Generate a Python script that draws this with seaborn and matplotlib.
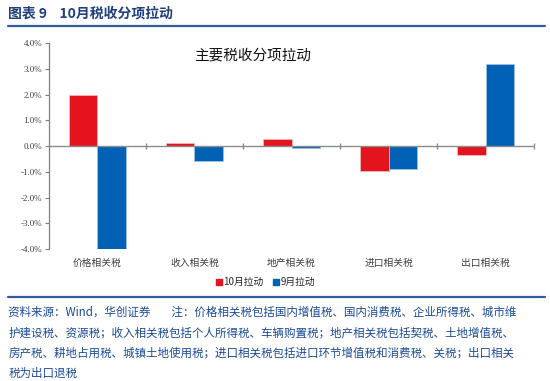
import pandas as pd
import numpy as np
import matplotlib.pyplot as plt
import seaborn as sns
from matplotlib.ticker import FuncFormatter
from matplotlib.lines import Line2D

# chart data (percentage points)
categories = ['价格相关税', '收入相关税', '地产相关税', '进口相关税', '出口相关税']
oct_pull = [2.0, 0.12, 0.27, -0.97, -0.33]
sep_pull = [-4.0, -0.58, -0.07, -0.90, 3.17]
series_names = ['10月拉动', '9月拉动']

data = pd.DataFrame({
    'category': categories * 2,
    'series': [series_names[0]] * len(categories) + [series_names[1]] * len(categories),
    'value': oct_pull + sep_pull,
})

sns.set_theme(style='white')
plt.rcParams['font.family'] = ['Noto Sans CJK SC', 'DejaVu Sans']

red = '#E3141E'
blue = '#0061B5'
navy = '#1F3F7F'

fig = plt.figure(figsize=(5.5, 3.81), dpi=100)
ax = fig.add_axes([0.089, 0.346, 0.882, 0.541])

sns.barplot(data=data, x='category', y='value', hue='series',
            palette=[red, blue], saturation=1, width=0.58, ax=ax,
            edgecolor='#f4b6b6', linewidth=0.6, legend=False)
for bar in ax.patches[len(categories):]:
    bar.set_edgecolor('#9cc3e6')

ax.set_ylim(-4.0, 4.0)
ax.set_yticks(np.arange(-4, 4.01, 1))
ax.yaxis.set_major_formatter(FuncFormatter(lambda v, p: f'{v:.1f}%'))
ax.set_xlim(-0.5, len(categories) - 0.5)
ax.set_xlabel('')
ax.set_ylabel('')

for s in ['top', 'right', 'bottom']:
    ax.spines[s].set_visible(False)
ax.spines['left'].set_color('#7f7f7f')
ax.spines['left'].set_linewidth(0.9)
ax.axhline(0, color='#8c8c8c', linewidth=1.0, zorder=1)

# small ticks on the zero line between categories
bounds = np.arange(len(categories) + 1) - 0.5
ax.plot(bounds[1:], np.zeros(len(bounds) - 1), linestyle='none', marker='|',
        markersize=4, color='#8c8c8c', clip_on=False)

ax.tick_params(axis='y', which='major', direction='out', length=3, width=0.8,
               color='#7f7f7f', left=True, pad=2, labelsize=6.5)
ax.tick_params(axis='x', length=0, pad=6, labelsize=7, colors='#404040')
for lab in ax.get_yticklabels():
    lab.set_fontfamily(['Liberation Serif'])
    lab.set_color('#404040')

ax.text(0.42, 0.94, '主要税收分项拉动', transform=ax.transAxes, ha='center',
        va='center', fontsize=10.5, color='#111111')

# legend
handles = [Line2D([], [], marker='s', linestyle='none', markersize=5, color=c)
           for c in [red, blue]]
fig.legend(handles, series_names, loc='center', bbox_to_anchor=(0.483, 0.26),
           ncol=2, frameon=False, fontsize=7, handlelength=0.6,
           handletextpad=0.1, columnspacing=1.0)

# header
fig.text(0.015, 0.965, '图表 9    10月税收分项拉动', fontsize=10, fontweight='bold',
         color=navy, va='center', ha='left')
fig.add_artist(Line2D([0.015, 0.99], [0.932, 0.932], color='#2F5D9E', linewidth=1.6))
fig.add_artist(Line2D([0.015, 0.99], [0.221, 0.221], color='#2F5D9E', linewidth=1.6))

footer = [
    '资料来源：Wind，华创证券        注：价格相关税包括国内增值税、国内消费税、企业所得税、城市维',
    '护建设税、资源税；收入相关税包括个人所得税、车辆购置税；地产相关税包括契税、土地增值税、',
    '房产税、耕地占用税、城镇土地使用税；进口相关税包括进口环节增值税和消费税、关税；出口相关',
    '税为出口退税',
]
for i, line in enumerate(footer):
    fig.text(0.015, 0.181 - i * 0.054, line, fontsize=8.3, color='#1B4A96',
             va='center', ha='left', style='italic')

fig.savefig('out.png', dpi=100)
